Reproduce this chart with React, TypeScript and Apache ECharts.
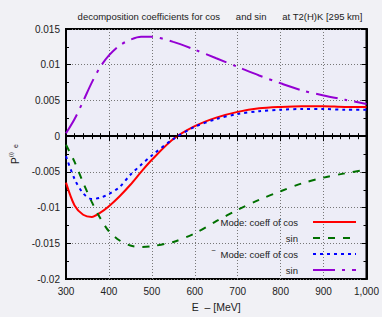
import React, { useEffect, useRef } from "react";
import * as echarts from "echarts";

const energies = [300, 320, 340, 360, 380, 400, 425, 450, 475, 500, 550, 600, 650, 700, 750, 800, 850, 900, 950, 1000];
const cosMode = [-0.0065, -0.0097, -0.011, -0.0113, -0.0107, -0.0098, -0.0084, -0.0068, -0.005, -0.0033, -0.0004, 0.0014, 0.0026, 0.0034, 0.0039, 0.0041, 0.0042, 0.0042, 0.0041, 0.0041];
const sinMode = [-0.0012, -0.0036, -0.0065, -0.0092, -0.0115, -0.0133, -0.0146, -0.0153, -0.0155, -0.0154, -0.0148, -0.0136, -0.0119, -0.0103, -0.0089, -0.0077, -0.0066, -0.0058, -0.0052, -0.0047];
const cosAnti = [-0.0028, -0.006, -0.008, -0.0088, -0.0086, -0.0081, -0.0071, -0.0054, -0.004, -0.0027, -0.0004, 0.0013, 0.0024, 0.0031, 0.0035, 0.0037, 0.0038, 0.0038, 0.0037, 0.0037];
const sinAnti = [0.0004, 0.0024, 0.0049, 0.0075, 0.0097, 0.0113, 0.0127, 0.0135, 0.0139, 0.0139, 0.0132, 0.0121, 0.0109, 0.0097, 0.0085, 0.0074, 0.0064, 0.0057, 0.0051, 0.0045];

const seriesNames = ["Mode: coeff of cos", "sin", "\u203E  Mode: coeff of cos", "sin"];
const seriesColors = ["#ff0000", "#007000", "#0000ff", "#9400d3"];
const seriesDash: any[] = ["solid", [7, 8], [3, 4], [22, 7, 3, 7]];
const seriesValues = [cosMode, sinMode, cosAnti, sinAnti];

const FONT = "Liberation Sans";

export default function App() {
  const ref = useRef<HTMLDivElement>(null);
  useEffect(() => {
    document.body.style.margin = "0";
    const chart = echarts.init(ref.current!, null, { renderer: "svg" });
    const legendRows = [222, 238, 254, 270];
    const graphics: any[] = [];
    seriesNames.forEach((n, i) => {
      graphics.push({
        type: "text",
        x: 298,
        y: legendRows[i],
        style: { text: n, fill: "#222", font: `9.5px "${FONT}"`, textAlign: "right", textVerticalAlign: "middle" },
        z: 100,
      });
      graphics.push({
        type: "line",
        shape: { x1: 313, y1: legendRows[i], x2: 356, y2: legendRows[i] },
        style: {
          stroke: seriesColors[i],
          lineWidth: 2,
          lineDash: seriesDash[i] === "solid" ? null : seriesDash[i],
        },
        z: 100,
      });
    });

    const fmt = (v: number) => String(+v.toFixed(4));
    chart.setOption({
      animation: false,
      backgroundColor: "#f1f1f5",
      textStyle: { fontFamily: FONT },
      title: {
        text: "decomposition coefficients for cos      and sin      at T2(H)K [295 km]",
        left: 215,
        textAlign: "center",
        top: 6,
        textStyle: { fontSize: 9.5, fontWeight: "normal", color: "#222", fontFamily: FONT },
      },
      grid: {
        left: 64,
        right: 15,
        top: 29,
        bottom: 34,
        show: true,
        backgroundColor: "#ededf7",
        borderColor: "#000",
        borderWidth: 2,
      },
      xAxis: [
        {
          type: "value",
          min: 300,
          max: 1000,
          interval: 100,
          name: "E  \u2013 [MeV]",
          nameLocation: "middle",
          nameGap: 21,
          nameTextStyle: { fontSize: 10.5, color: "#222", fontFamily: FONT },
          axisLine: { show: true, lineStyle: { color: "#000", width: 2 } },
          axisTick: { show: true, inside: true, length: 5, lineStyle: { color: "#000" } },
          minorTick: { show: true, splitNumber: 5, length: 3, lineStyle: { color: "#000" } },
          axisLabel: { fontSize: 10, color: "#222", margin: 7, fontFamily: FONT },
          splitLine: { show: true, lineStyle: { color: "#777", type: [1, 2], width: 1 } },
        },
        {
          type: "value",
          position: "top",
          min: 300,
          max: 1000,
          interval: 100,
          axisLine: { show: true, lineStyle: { color: "#000", width: 2 } },
          axisTick: { show: true, inside: true, length: 5, lineStyle: { color: "#000" } },
          minorTick: { show: true, splitNumber: 5, length: 3, lineStyle: { color: "#000" } },
          axisLabel: { show: false },
          splitLine: { show: false },
        },
      ],
      yAxis: [
        {
          type: "value",
          min: -0.02,
          max: 0.015,
          interval: 0.005,
          name: "{p|P}{sup|(i)}{sub|  e}",
          nameLocation: "middle",
          nameRotate: 90,
          nameGap: 44,
          nameTextStyle: {
            color: "#222",
            rich: {
              p: { fontSize: 10, fontFamily: FONT, color: "#222" },
              sup: { fontSize: 6, fontFamily: FONT, color: "#222", verticalAlign: "bottom", padding: [0, 0, 8, 0] },
              sub: { fontSize: 7, fontFamily: FONT, color: "#222" },
            },
          },
          axisLine: { show: true, lineStyle: { color: "#000", width: 2 } },
          axisTick: { show: true, inside: true, length: 5, lineStyle: { color: "#000" } },
          minorTick: { show: true, splitNumber: 2, length: 3, lineStyle: { color: "#000" } },
          axisLabel: { fontSize: 10, color: "#222", margin: 6, fontFamily: FONT, formatter: fmt },
          splitLine: { show: true, lineStyle: { color: "#777", type: [1, 2], width: 1 } },
        },
        {
          type: "value",
          position: "right",
          min: -0.02,
          max: 0.015,
          interval: 0.005,
          axisLine: { show: true, lineStyle: { color: "#000", width: 2 } },
          axisTick: { show: true, inside: true, length: 5, lineStyle: { color: "#000" } },
          minorTick: { show: true, splitNumber: 2, length: 3, lineStyle: { color: "#000" } },
          axisLabel: { show: false },
          splitLine: { show: false },
        },
      ],
      series: seriesValues.map((vals, i) => ({
        type: "line",
        name: seriesNames[i],
        xAxisIndex: 0,
        yAxisIndex: 0,
        data: energies.map((e, j) => [e, vals[j]]),
        smooth: 0.3,
        symbol: "none",
        lineStyle: { color: seriesColors[i], width: 2, type: seriesDash[i] },
        itemStyle: { color: seriesColors[i] },
        z: 3 + i,
        markLine:
          i === 0
            ? {
                silent: true,
                symbol: "none",
                label: { show: false },
                lineStyle: { color: "#000", width: 1.5, type: "solid" },
                data: [{ yAxis: 0 }],
              }
            : undefined,
      })),
      graphic: graphics,
    });
    return () => chart.dispose();
  }, []);
  return <div ref={ref} style={{ width: 382, height: 317 }} />;
}
